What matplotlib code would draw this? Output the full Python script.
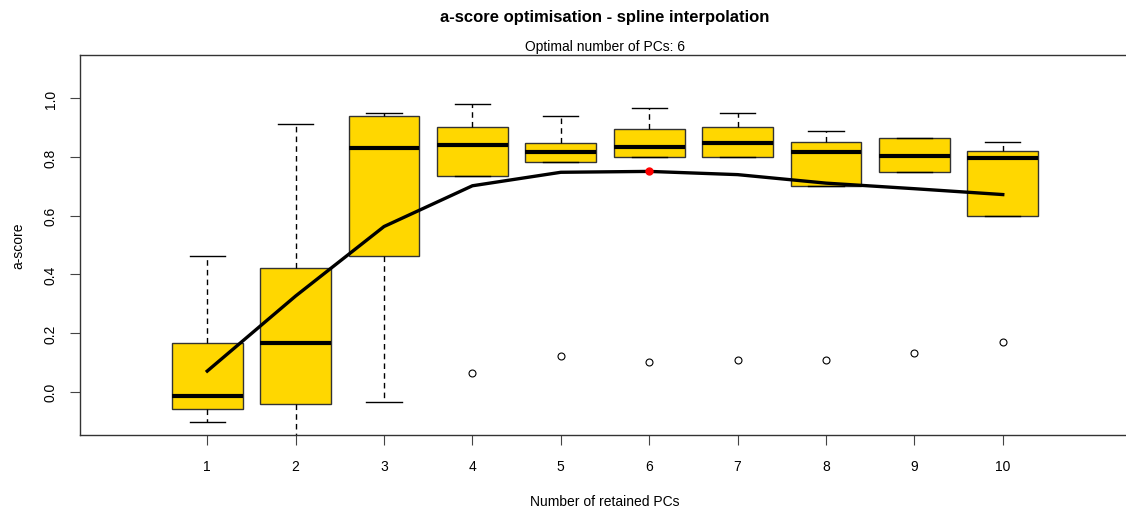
import matplotlib
matplotlib.use("Agg")
import matplotlib.pyplot as plt

plt.rcParams['font.family'] = ['Liberation Sans', 'DejaVu Sans']

# Данные: число компонент и статистики боксплотов
pcs = [1, 2, 3, 4, 5, 6, 7, 8, 9, 10]
q1 = [-0.058, -0.041, 0.463, 0.734, 0.783, 0.799, 0.799, 0.700, 0.750, 0.600]
med = [-0.015, 0.165, 0.831, 0.840, 0.817, 0.833, 0.848, 0.817, 0.803, 0.797]
q3 = [0.165, 0.422, 0.940, 0.901, 0.848, 0.894, 0.901, 0.851, 0.864, 0.821]
whislo = [-0.102, -0.250, -0.035, 0.734, 0.783, 0.799, 0.799, 0.700, 0.750, 0.600]
whishi = [0.463, 0.912, 0.951, 0.982, 0.941, 0.967, 0.951, 0.888, 0.866, 0.851]
fliers = [[], [], [], [0.062], [0.122], [0.101], [0.108], [0.108], [0.132], [0.169]]

# Сглаженная кривая a-score
spline_y = [0.070, 0.326, 0.563, 0.702, 0.748, 0.751, 0.740, 0.711, 0.692, 0.672]
best_pc = 6
best_score = 0.751

fig = plt.figure(figsize=(11.26, 5.10), dpi=100)
ax = fig.add_axes([0.0710, 0.1451, 0.9326, 0.7451])

stats = []
for i in range(len(pcs)):
    stats.append(dict(q1=q1[i], med=med[i], q3=q3[i], whislo=whislo[i],
                      whishi=whishi[i], fliers=fliers[i]))

ax.bxp(stats, positions=pcs, widths=0.8, patch_artist=True, manage_ticks=False,
       boxprops=dict(facecolor='#FFD700', edgecolor='#333333', linewidth=1),
       medianprops=dict(color='black', linewidth=3, solid_capstyle='butt'),
       whiskerprops=dict(color='black', linewidth=1, linestyle=(0, (4, 3))),
       capprops=dict(color='black', linewidth=1),
       capwidths=0.4,
       flierprops=dict(marker='o', markerfacecolor='none', markeredgecolor='black',
                       markersize=5, markeredgewidth=0.8))

ax.plot(pcs, spline_y, color='black', linewidth=2.4, zorder=5)
ax.plot([best_pc], [best_score], 'o', color='red', markersize=5, zorder=6)

ax.set_xlim(-0.44, 11.44)
ax.set_ylim(-0.148, 1.148)
ax.set_xticks(pcs)
ax.set_xticklabels([str(p) for p in pcs], fontsize=10)
ax.set_yticks([0.0, 0.2, 0.4, 0.6, 0.8, 1.0])
ax.set_yticklabels(['0.0', '0.2', '0.4', '0.6', '0.8', '1.0'], rotation=90,
                   va='center', fontsize=10)
ax.tick_params(axis='x', length=7, pad=10, color='#444444')
ax.tick_params(axis='y', length=7, pad=9, color='#444444')
for s in ax.spines.values():
    s.set_color('#333333')
    s.set_linewidth(1)

cx = 0.0710 + 0.9326 / 2
fig.text(cx, 0.965, 'a-score optimisation - spline interpolation',
         ha='center', va='center', fontsize=12, fontweight='bold')
fig.text(cx, 0.908, 'Optimal number of PCs: 6', ha='center', va='center', fontsize=10)
fig.text(cx, 1 - 502 / 510, 'Number of retained PCs', ha='center', va='center', fontsize=10)
fig.text(18 / 1126, 0.518, 'a-score', ha='center', va='center', rotation=90, fontsize=10)

fig.savefig('out.png', dpi=100)
